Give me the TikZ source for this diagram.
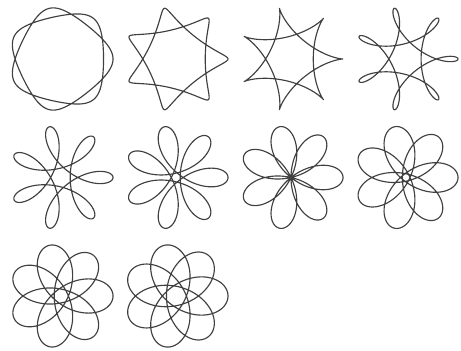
\documentclass[tikz,border=0pt]{standalone}
\begin{document}
\begin{tikzpicture}[x=0.02cm,y=-0.02cm,
  curve/.style={line width=0.65pt, draw=black!75, line join=round}]
\useasboundingbox[fill=white] (0,0) rectangle (461,351);
\foreach \k/\d in {0/0.5,1/1.4,2/2.0,3/2.75,4/3.5,5/4.25,6/5.0,7/5.75,8/6.5,9/7.25}{
  \pgfmathsetmacro{\s}{52/(5+\d)}
  \pgfmathtruncatemacro{\col}{mod(\k,4)}
  \pgfmathtruncatemacro{\row}{int(\k/4)}
  \pgfmathsetmacro{\cx}{61+115*\col}
  \pgfmathsetmacro{\cy}{59+118.5*\row}
  \draw[curve] plot[domain=0:720, samples=600, smooth, variable=\t]
    ({\cx+\s*(5*cos(\t)+\d*cos(2.5*\t))}, {\cy+\s*(5*sin(\t)-\d*sin(2.5*\t))});
}
\end{tikzpicture}
\end{document}
